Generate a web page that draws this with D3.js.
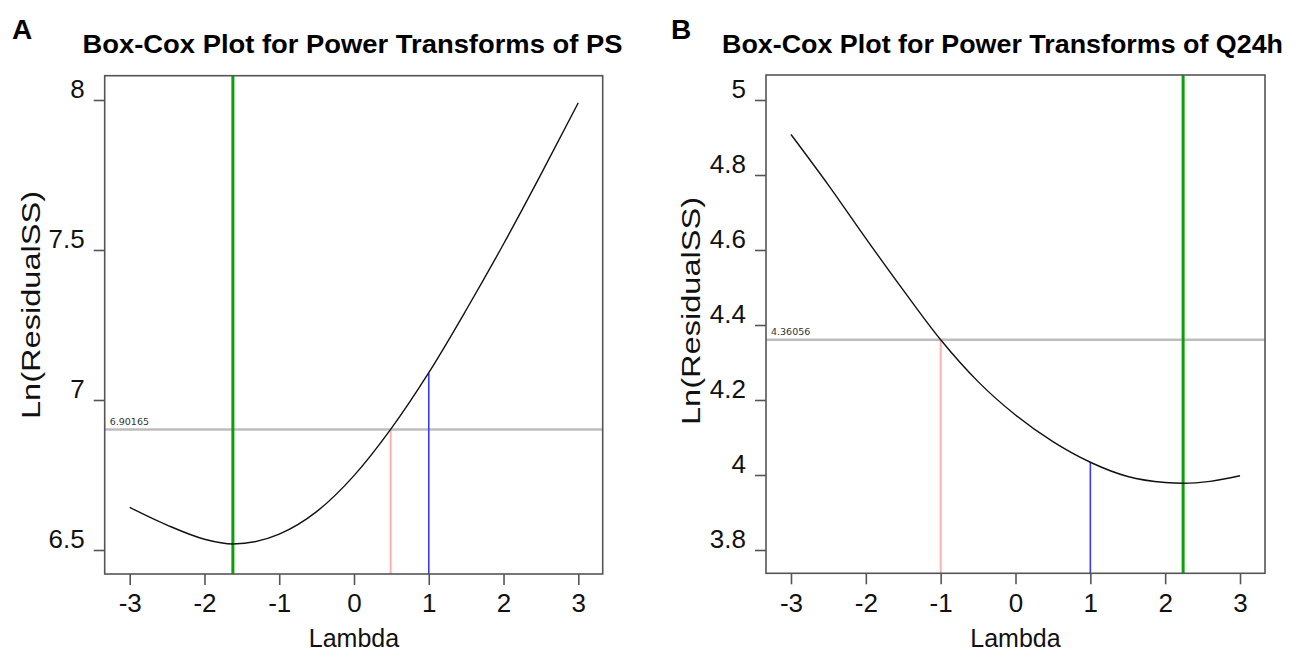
<!DOCTYPE html>
<html>
<head>
<meta charset="utf-8">
<script src="https://cdn.jsdelivr.net/npm/d3@7"></script>
<style>
  html, body { margin: 0; padding: 0; background: #fff; }
  svg { display: block; font-family: "Liberation Sans", Arial, Helvetica, sans-serif; }
</style>
</head>
<body>
<svg id="chart" width="1298" height="652"></svg>
<script>
// ---------------- data ----------------
const lambdaTicks = [-3, -2, -1, 0, 1, 2, 3];
const lambdaTickLabels = ["-3", "-2", "-1", "0", "1", "2", "3"];

// Panel A: PS
const lambdaA = [-3, -2.5, -2, -1.62, -1, -0.5, 0, 0.49, 1, 1.5, 2, 2.5, 3];
const lnRssA  = [6.642, 6.583, 6.536, 6.520, 6.553, 6.628, 6.748, 6.902, 7.091, 7.300, 7.520, 7.752, 7.991];
const yTicksA = [6.5, 7, 7.5, 8];
const yTickLabelsA = ["6.5", "7", "7.5", "8"];
const optimalA = -1.62;     // green
const ciA = 0.49;           // pink
const ciLevelA = 6.90165;   // gray
const refA = 1;             // blue
const refLevelA = 7.091;

// Panel B: Q24h
const lambdaB = [-3, -2.5, -2, -1.5, -1, -0.5, 0, 0.5, 1, 1.5, 2, 2.24, 2.6, 3];
const lnRssB  = [4.908, 4.773, 4.631, 4.493, 4.3606, 4.249, 4.160, 4.089, 4.034, 3.996, 3.980, 3.978, 3.983, 3.998];
const yTicksB = [3.8, 4, 4.2, 4.4, 4.6, 4.8, 5];
const yTickLabelsB = ["3.8", "4", "4.2", "4.4", "4.6", "4.8", "5"];
const optimalB = 2.24;
const ciB = -1;
const ciLevelB = 4.36056;
const refB = 1;
const refLevelB = 4.034;

const titles = ["Box-Cox Plot for Power Transforms of PS", "Box-Cox Plot for Power Transforms of Q24h"];
const panelLetters = ["A", "B"];

// ---------------- drawing ----------------
const svg = d3.select("#chart");

function panel(cfg) {
  const g = svg.append("g");
  const x = d3.scaleLinear().domain([-3, 3]).range(cfg.xr);
  const y = d3.scaleLinear().domain(cfg.ydom).range(cfg.yr);
  const [bx0, bx1] = cfg.boxX, [by0, by1] = cfg.boxY;

  // reference lines
  g.append("line").attr("x1", bx0).attr("x2", bx1)
    .attr("y1", y(cfg.ciLevel)).attr("y2", y(cfg.ciLevel))
    .attr("stroke", "#bdbdbd").attr("stroke-width", 2.5);
  g.append("text").attr("x", bx0 + 5).attr("y", y(cfg.ciLevel) - 5)
    .attr("font-family", "'DejaVu Sans', sans-serif").attr("font-size", 9.5)
    .attr("fill", "#333").text(cfg.ciLevel.toString());

  g.append("line").attr("x1", x(cfg.ci)).attr("x2", x(cfg.ci))
    .attr("y1", by1).attr("y2", y(cfg.ciLevel))
    .attr("stroke", "#ffb0b0").attr("stroke-width", 2);
  g.append("line").attr("x1", x(cfg.ref)).attr("x2", x(cfg.ref))
    .attr("y1", by1).attr("y2", y(cfg.refLevel))
    .attr("stroke", "#3a3aff").attr("stroke-width", 1.6);
  g.append("line").attr("x1", x(cfg.opt)).attr("x2", x(cfg.opt))
    .attr("y1", by0).attr("y2", by1)
    .attr("stroke", "#0aa00a").attr("stroke-width", 3);

  // curve
  const line = d3.line().x((d, i) => x(cfg.lx[i])).y(d => y(d)).curve(d3.curveMonotoneX);
  g.append("path").datum(cfg.ly).attr("d", line)
    .attr("fill", "none").attr("stroke", "#111").attr("stroke-width", 1.4);

  // box
  g.append("rect").attr("x", bx0).attr("y", by0).attr("width", bx1 - bx0).attr("height", by1 - by0)
    .attr("fill", "none").attr("stroke", "#555").attr("stroke-width", 1.6);

  // x axis
  const xa = g.append("g").attr("transform", `translate(0,${by1})`)
    .call(d3.axisBottom(x).tickValues(lambdaTicks).tickSize(11).tickPadding(9)
      .tickFormat((d, i) => lambdaTickLabels[i]));
  xa.select(".domain").remove();
  xa.selectAll(".tick line").attr("stroke", "#555").attr("stroke-width", 1.6);
  xa.selectAll(".tick text").attr("font-size", 26).attr("fill", "#111")
    .attr("font-family", "'Liberation Sans', Arial, sans-serif");

  // y axis
  const ya = g.append("g").attr("transform", `translate(${bx0},0)`)
    .call(d3.axisLeft(y).tickValues(cfg.yt).tickSize(11).tickPadding(9)
      .tickFormat((d, i) => cfg.ytl[i]));
  ya.select(".domain").remove();
  ya.selectAll(".tick line").attr("stroke", "#555").attr("stroke-width", 1.6);
  ya.selectAll(".tick text").attr("font-size", 26).attr("fill", "#111")
    .attr("dy", "-0.08em")
    .attr("font-family", "'Liberation Sans', Arial, sans-serif");

  // axis titles
  g.append("text").attr("x", (cfg.xr[0] + cfg.xr[1]) / 2).attr("y", 647)
    .attr("text-anchor", "middle").attr("font-size", 25).attr("fill", "#111").text("Lambda");
  g.append("text").attr("transform", `translate(${cfg.ylabX},${cfg.ylabY}) rotate(-90)`)
    .attr("text-anchor", "middle").attr("font-size", 25).attr("fill", "#111")
    .attr("textLength", 228).attr("lengthAdjust", "spacingAndGlyphs")
    .text("Ln(ResidualSS)");

  // title & letter
  g.append("text").attr("x", cfg.titleX).attr("y", 53)
    .attr("text-anchor", "middle").attr("font-weight", "bold").attr("font-size", 26)
    .attr("textLength", cfg.titleW).attr("lengthAdjust", "spacingAndGlyphs")
    .attr("fill", "#000").text(cfg.title);
  g.append("text").attr("x", cfg.letterX).attr("y", 39)
    .attr("font-weight", "bold").attr("font-size", 28).attr("fill", "#000").text(cfg.letter);
}

panel({
  xr: [129.7, 578.3], ydom: [6.5, 8], yr: [550, 100],
  boxX: [104.7, 602.7], boxY: [75.7, 574],
  lx: lambdaA, ly: lnRssA, yt: yTicksA, ytl: yTickLabelsA,
  opt: optimalA, ci: ciA, ciLevel: ciLevelA, ref: refA, refLevel: refLevelA,
  ylabX: 40, ylabY: 305, titleX: 352.5, titleW: 540, title: titles[0],
  letter: panelLetters[0], letterX: 12
});
panel({
  xr: [791, 1240], ydom: [3.8, 5], yr: [550, 100],
  boxX: [766, 1265], boxY: [75, 573.3],
  lx: lambdaB, ly: lnRssB, yt: yTicksB, ytl: yTickLabelsB,
  opt: optimalB, ci: ciB, ciLevel: ciLevelB, ref: refB, refLevel: refLevelB,
  ylabX: 700, ylabY: 311, titleX: 1002.5, titleW: 561, title: titles[1],
  letter: panelLetters[1], letterX: 671
});
</script>
</body>
</html>
